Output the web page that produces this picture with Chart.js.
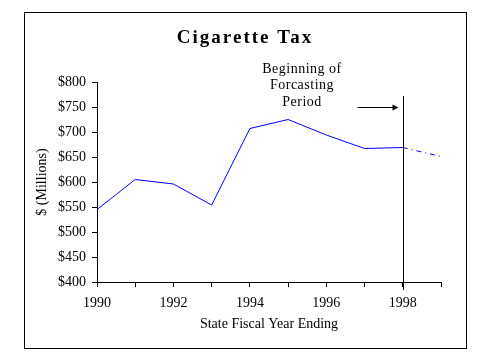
<!DOCTYPE html>
<html>
<head>
<meta charset="utf-8">
<script src="https://cdn.jsdelivr.net/npm/chart.js@4.4.1/dist/chart.umd.min.js"></script>
<style>
    html, body { margin: 0; padding: 0; background: #fff; }
    #wrap { width: 479px; height: 359px; position: relative; }
</style>
</head>
<body>
<div id="wrap"><canvas id="tax-chart"></canvas></div>
<script>
// data ($ millions)
const years = [1990, 1991, 1992, 1993, 1994, 1995, 1996, 1997, 1998];
const taxValues = [545, 605, 596, 554, 707, 725, 694, 667, 669];
const forecastYears = [1998, 1999];
const forecastValues = [669, 651];
const yTicks = [400, 450, 500, 550, 600, 650, 700, 750, 800];
const noteLines = ["Beginning of", "Forcasting", "Period"];
const forecastStart = 1998;

const serif = "'Liberation Serif', 'Times New Roman', serif";

// title, frame, the forecast marker line and arrow
const decorations = {
    id: "decorations",
    beforeDraw(chart) {
        const ctx = chart.ctx;
        ctx.save();
        ctx.fillStyle = "#fff";
        ctx.fillRect(0, 0, chart.width, chart.height);
        ctx.restore();
    },
    afterDraw(chart) {
        const ctx = chart.ctx;
        const xs = chart.scales.x;
        const ys = chart.scales.y;
        ctx.save();

        // frame
        ctx.strokeStyle = "#000";
        ctx.lineWidth = 1;
        ctx.strokeRect(24.5, 12.5, 442, 336);

        // title
        ctx.fillStyle = "#000";
        ctx.textAlign = "center";
        ctx.textBaseline = "middle";
        ctx.font = "bold 19px " + serif;
        ctx.letterSpacing = "2px";
        ctx.fillText("Cigarette Tax", 245, 38);

        // vertical line at start of forecast
        const lx = Math.round(xs.getPixelForValue(forecastStart)) + 0.5;
        ctx.beginPath();
        ctx.moveTo(lx, ys.getPixelForValue(772));
        ctx.lineTo(lx, chart.chartArea.bottom + 8);
        ctx.stroke();

        // arrow
        const ay = Math.round(ys.getPixelForValue(750)) + 0.5;
        ctx.beginPath();
        ctx.moveTo(lx - 46, ay);
        ctx.lineTo(lx - 10, ay);
        ctx.stroke();
        ctx.beginPath();
        ctx.moveTo(lx - 5, ay);
        ctx.lineTo(lx - 11, ay - 3);
        ctx.lineTo(lx - 11, ay + 3);
        ctx.closePath();
        ctx.fill();

        // note text
        ctx.font = "14px " + serif;
        ctx.letterSpacing = "0.5px";
        noteLines.forEach((t, i) => {
            ctx.fillText(t, 302, 69 + i * 16.7);
        });
        ctx.restore();
    }
};

const chart = new Chart(document.getElementById("tax-chart"), {
    type: "line",
    data: {
        datasets: [{
            data: years.map((y, i) => ({ x: y, y: taxValues[i] })),
            borderColor: "#0000ff",
            borderWidth: 1,
            pointRadius: 0,
            tension: 0
        }, {
            data: forecastYears.map((y, i) => ({ x: y, y: forecastValues[i] })),
            borderColor: "#0000ff",
            borderWidth: 1,
            borderDash: [5, 4, 1, 4],
            pointRadius: 0,
            tension: 0
        }]
    },
    options: {
        responsive: true,
        maintainAspectRatio: false,
        animation: false,
        events: [],
        layout: { padding: { left: 24, right: 38, top: 82, bottom: 0 } },
        plugins: {
            legend: { display: false },
            tooltip: { enabled: false },
            title: { display: false }
        },
        scales: {
            x: {
                type: "linear",
                min: 1990,
                max: 1999,
                afterFit(scale) { scale.height = 77; },
                border: { color: "#000", width: 1 },
                grid: { drawOnChartArea: false, drawTicks: true, tickLength: 5, color: "#000" },
                ticks: {
                    stepSize: 1,
                    autoSkip: false,
                    maxRotation: 0,
                    padding: 8,
                    color: "#000",
                    font: { family: serif, size: 14 },
                    callback: v => (v % 2 === 0 ? String(v) : "")
                },
                title: {
                    display: true,
                    text: "State Fiscal Year Ending",
                    color: "#000",
                    font: { family: serif, size: 14 },
                    padding: { top: 0, bottom: 26 }
                }
            },
            y: {
                min: 400,
                max: 800,
                afterFit(scale) { scale.width = 73; },
                afterBuildTicks(scale) { scale.ticks = yTicks.map(v => ({ value: v })); },
                border: { color: "#000", width: 1 },
                grid: { drawOnChartArea: false, drawTicks: true, tickLength: 5, color: "#000" },
                ticks: {
                    padding: 6,
                    color: "#000",
                    font: { family: serif, size: 14 },
                    callback: v => "$" + v
                },
                title: {
                    display: true,
                    text: "$ (Millions)",
                    color: "#000",
                    font: { family: serif, size: 14 },
                    padding: { top: 10, bottom: 0 }
                }
            }
        }
    },
    plugins: [decorations]
});
</script>
</body>
</html>
